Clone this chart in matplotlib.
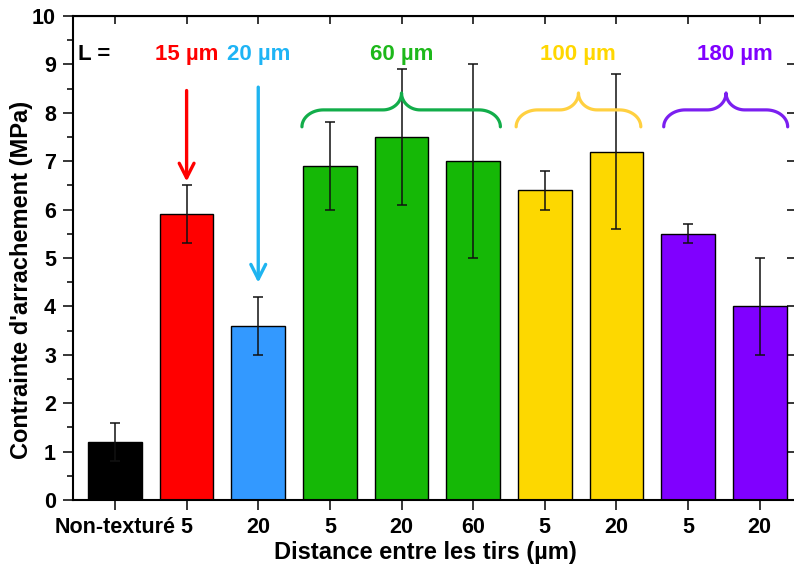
import numpy as np
import matplotlib
matplotlib.use("Agg")
import matplotlib.pyplot as plt
from matplotlib.path import Path
from matplotlib.patches import PathPatch
from matplotlib.ticker import MultipleLocator

plt.rcParams['font.family'] = ['Liberation Sans', 'DejaVu Sans']
plt.rcParams['font.weight'] = 'bold'

# ---- data ----
tick_labels = ["Non-texturé", "5", "20", "5", "20", "60", "5", "20", "5", "20"]
values = [1.2, 5.9, 3.6, 6.9, 7.5, 7.0, 6.4, 7.2, 5.5, 4.0]
errors = [0.4, 0.6, 0.6, 0.9, 1.4, 2.0, 0.4, 1.6, 0.2, 1.0]
bar_colors = ["#000000", "#FF0000", "#3399FF", "#15B806", "#15B806", "#15B806",
              "#FDD800", "#FDD800", "#8000FF", "#8000FF"]

group_labels = ["15 µm", "20 µm", "60 µm", "100 µm", "180 µm"]
group_label_x = [1.0, 2.0, 4.0, 6.46, 8.66]
group_label_colors = ["#FF0000", "#1EB4F5", "#1DB81A", "#FFD700", "#8000FF"]

# arrows: (x, y_start, y_end)
arrow_x = [1.0, 2.0]
arrow_y_start = [8.46, 8.53]
arrow_y_end = [6.58, 4.49]
arrow_colors = ["#FF0000", "#1EB4F0"]

# braces: (x_left, x_tip, x_right)
brace_left = [2.61, 5.60, 7.66]
brace_tip = [4.0, 6.47, 8.53]
brace_right = [5.38, 7.34, 9.39]
brace_colors = ["#12AD4A", "#FFD040", "#7B1FF0"]
brace_y_end, brace_y_flat, brace_y_tip = 7.71, 8.06, 8.41

fig = plt.figure(figsize=(7.94, 5.67), dpi=100)
ax = fig.add_axes([72.7 / 794, 1 - 500 / 567, (802 - 72.7) / 794, (500 - 16) / 567])

x = np.arange(len(values))
ax.bar(x, values, width=0.75, color=bar_colors, edgecolor="black", linewidth=1.0, zorder=2)
ax.errorbar(x, values, yerr=errors, fmt="none", ecolor="#111111", elinewidth=1.1,
            capsize=3.8, capthick=1.1, zorder=3)

ax.set_xlim(-0.59, 9.59)
ax.set_ylim(0, 10)
ax.set_xticks(x)
ax.set_xticklabels(tick_labels, fontsize=15.5, fontweight="bold")
ax.yaxis.set_major_locator(MultipleLocator(1))
ax.yaxis.set_minor_locator(MultipleLocator(0.5))
for lab in ax.get_yticklabels():
    lab.set_fontsize(15.5)
    lab.set_fontweight("bold")

for s in ax.spines.values():
    s.set_linewidth(1.5)

ax.tick_params(axis="y", which="major", direction="out", length=7, width=1.1, pad=5,
               labelsize=15.5)
ax.tick_params(axis="y", which="minor", direction="out", length=4, width=1.1)
ax.tick_params(axis="x", which="major", direction="out", length=7, width=1.1, pad=5,
               labelsize=15.5)
ax2 = ax.secondary_xaxis("top")
ax2.set_xticks(x)
ax2.tick_params(direction="in", length=6, width=1.1, labeltop=False)
ax3 = ax.secondary_yaxis("right")
ax3.yaxis.set_major_locator(MultipleLocator(1))
ax3.tick_params(direction="in", length=11, width=1.1, labelright=False)

ax.set_ylabel("Contrainte d'arrachement (MPa)", fontsize=17, fontweight="bold")
ax.yaxis.set_label_coords(-0.055, 0.455)
ax.set_xlabel("Distance entre les tirs (µm)", fontsize=17, fontweight="bold")
ax.xaxis.set_label_coords(0.483, -0.085)

# annotations
ax.text(-0.52, 9.21, "L =", fontsize=16, fontweight="bold", color="black",
        ha="left", va="center")
for lx, lt, lc in zip(group_label_x, group_labels, group_label_colors):
    ax.text(lx, 9.21, lt, fontsize=16, fontweight="bold", color=lc, ha="center", va="center")

for axx, ys, ye, c in zip(arrow_x, arrow_y_start, arrow_y_end, arrow_colors):
    ax.annotate("", xy=(axx, ye), xytext=(axx, ys),
                arrowprops=dict(arrowstyle="->,head_length=0.75,head_width=0.38",
                                color=c, lw=2.4, mutation_scale=14,
                                shrinkA=0, shrinkB=0), zorder=4)


def brace_path(x0, xt, x1, ye, yf, yt, rx=0.3, rxt=0.26):
    t = np.linspace(0, np.pi / 2, 20)
    pts = []
    pts += list(zip(x0 + rx - rx * np.cos(t), ye + (yf - ye) * np.sin(t)))
    pts += list(zip(xt - rxt + rxt * np.sin(t), yf + (yt - yf) * (1 - np.cos(t))))
    pts += list(zip(xt + rxt - rxt * np.cos(t), yt - (yt - yf) * np.sin(t)))
    pts += list(zip(x1 - rx + rx * np.sin(t), yf - (yf - ye) * (1 - np.cos(t))))
    return Path(np.array(pts))


for bl, bt, br, bc in zip(brace_left, brace_tip, brace_right, brace_colors):
    p = brace_path(bl, bt, br, brace_y_end, brace_y_flat, brace_y_tip)
    ax.add_patch(PathPatch(p, fill=False, edgecolor=bc, lw=2.3, capstyle="round",
                           joinstyle="round", zorder=4))

fig.savefig("out.png", dpi=100)
